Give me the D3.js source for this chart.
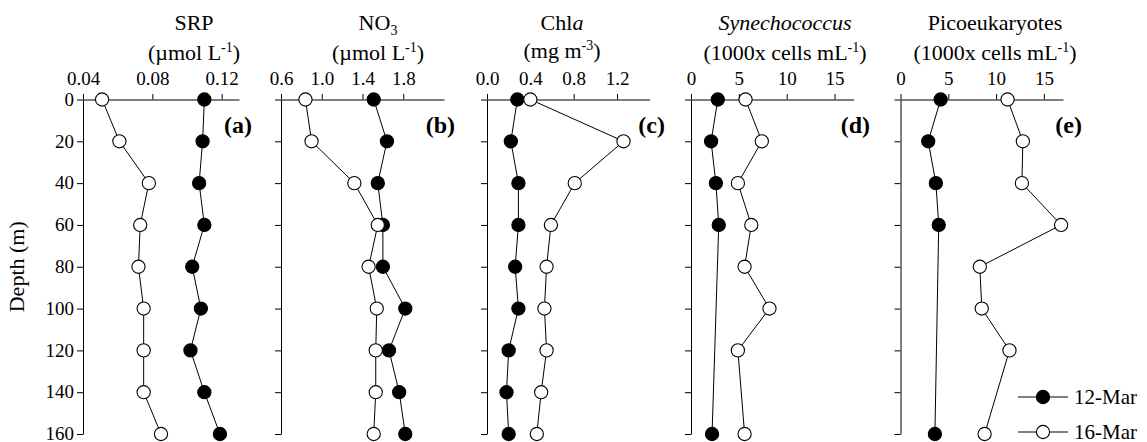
<!DOCTYPE html>
<html>
<head>
<meta charset="utf-8">
<script src="https://cdn.jsdelivr.net/npm/d3@7"></script>
<style>
  html, body { margin: 0; padding: 0; background: #fff; }
  svg { display: block; }
  svg text { font-family: "Liberation Serif", "DejaVu Serif", serif !important; }
</style>
</head>
<body>
<svg id="chart" width="1147" height="442" font-family="Liberation Serif"></svg>
<script>
// ---------------- DATA ----------------
const depths = [0, 20, 40, 60, 80, 100, 120, 140, 160];
const depthTicks = [0, 20, 40, 60, 80, 100, 120, 140, 160];
const seriesNames = ["12-Mar", "16-Mar"];

const srp12 = [0.110, 0.109, 0.107, 0.110, 0.103, 0.108, 0.102, 0.110, 0.119];
const srp16 = [0.051, 0.061, 0.078, 0.073, 0.072, 0.075, 0.075, 0.075, 0.085];

const no3_12 = [1.51, 1.64, 1.55, 1.60, 1.60, 1.82, 1.66, 1.76, 1.82];
const no3_16 = [0.84, 0.90, 1.32, 1.55, 1.46, 1.54, 1.53, 1.53, 1.51];

const chl12 = [0.28, 0.22, 0.29, 0.29, 0.26, 0.29, 0.20, 0.18, 0.20];
const chl16 = [0.40, 1.26, 0.81, 0.59, 0.55, 0.53, 0.55, 0.50, 0.46];

const syn12 = [2.8, 2.1, 2.6, 2.9, null, null, null, null, 2.2];
const syn16 = [5.7, 7.4, 4.9, 6.3, 5.6, 8.2, 4.9, null, 5.6];

const pico12 = [4.2, 2.9, 3.7, 4.0, null, null, null, null, 3.6];
const pico16 = [11.2, 12.8, 12.7, 16.8, 8.3, 8.5, 11.4, null, 8.8];

const srpTicks = [0.04, 0.08, 0.12];
const no3Ticks = [0.6, 1.0, 1.4, 1.8];
const chlTicks = [0.0, 0.4, 0.8, 1.2];
const cellTicks = [0, 5, 10, 15];

const panelLetters = ["(a)", "(b)", "(c)", "(d)", "(e)"];

// ---------------- LAYOUT ----------------
const FONT = "Liberation Serif";
const panels = [
  { s12: srp12, s16: srp16, domain: [0.04, 0.13], range: [83, 239], ticks: srpTicks, fmt: ".2f",
    titleX: 194, labelX: 252, title: "srp" },
  { s12: no3_12, s16: no3_16, domain: [0.6, 2.2], range: [281, 444], ticks: no3Ticks, fmt: ".1f",
    titleX: 378, labelX: 455, title: "no3" },
  { s12: chl12, s16: chl16, domain: [0, 1.5], range: [487, 649.5], ticks: chlTicks, fmt: ".1f",
    titleX: 562, labelX: 665, title: "chl" },
  { s12: syn12, s16: syn16, domain: [0, 17], range: [691, 853.7], ticks: cellTicks, fmt: "d",
    titleX: 785, labelX: 870, title: "syn" },
  { s12: pico12, s16: pico16, domain: [0, 17], range: [900.5, 1063], ticks: cellTicks, fmt: "d",
    titleX: 995, labelX: 1082, title: "pico" }
];

const svg = d3.select("#chart");
const y = d3.scaleLinear().domain([0, 160]).range([99.5, 434]);
const R = 6.6;
const TICK_FONT = 19;
const TITLE_FONT = 22;

function addTitle(g, p) {
  const t1 = g.append("text").attr("x", p.titleX).attr("y", 30).attr("text-anchor", "middle")
    .attr("font-family", FONT).attr("font-size", TITLE_FONT).attr("fill", "#000");
  const t2 = g.append("text").attr("x", p.titleX).attr("y", 60).attr("text-anchor", "middle")
    .attr("font-family", FONT).attr("font-size", TITLE_FONT).attr("fill", "#000");
  const sup = (t, pre, s, post) => {
    t.append("tspan").text(pre);
    t.append("tspan").attr("font-size", 14).attr("dy", -8).text(s);
    t.append("tspan").attr("dy", 8).text(post);
  };
  if (p.title === "srp") {
    t1.text("SRP");
    sup(t2, "(\u00b5mol L", "-1", ")");
  } else if (p.title === "no3") {
    t1.append("tspan").text("NO");
    t1.append("tspan").attr("font-size", 14).attr("dy", 5).text("3");
    sup(t2, "(\u00b5mol L", "-1", ")");
  } else if (p.title === "chl") {
    t1.append("tspan").text("Chl");
    t1.append("tspan").attr("font-style", "italic").text("a");
    t2.attr("y", 58);
    sup(t2, "(mg m", "-3", ")");
  } else if (p.title === "syn") {
    t1.append("tspan").attr("font-style", "italic").text("Synechococcus");
    sup(t2, "(1000x cells mL", "-1", ")");
  } else {
    t1.text("Picoeukaryotes");
    sup(t2, "(1000x cells mL", "-1", ")");
  }
}

panels.forEach((p, i) => {
  const g = svg.append("g");
  const x = d3.scaleLinear().domain(p.domain).range(p.range);

  // top x axis
  const xAxis = d3.axisTop(x).tickValues(p.ticks).tickFormat(d3.format(p.fmt))
    .tickSize(5.5).tickSizeOuter(0).tickPadding(9);
  const gx = g.append("g").attr("transform", `translate(0,${y(0)})`).call(xAxis)
    .attr("font-family", FONT);
  gx.selectAll("text").attr("font-size", TICK_FONT).attr("font-family", FONT).attr("fill", "#000");
  gx.selectAll("line, path").attr("stroke", "#000").attr("stroke-width", 1);

  // left y axis
  const yAxis = d3.axisLeft(y).tickValues(depthTicks).tickSize(6).tickSizeOuter(0).tickPadding(3)
    .tickFormat(i === 0 ? d3.format("d") : () => "");
  const gy = g.append("g").attr("transform", `translate(${p.range[0]},0)`).call(yAxis)
    .attr("font-family", FONT);
  gy.selectAll("text").attr("font-size", TICK_FONT).attr("font-family", FONT).attr("fill", "#000")
    .attr("dy", "0.3em");
  gy.selectAll("line, path").attr("stroke", "#000").attr("stroke-width", 1);

  addTitle(g, p);

  // panel letter
  g.append("text").attr("x", p.labelX).attr("y", 133).attr("text-anchor", "end")
    .attr("font-family", FONT).attr("font-size", 24).attr("font-weight", "bold")
    .attr("fill", "#000").text(panelLetters[i]);

  const line = d3.line().x(d => x(d.v)).y(d => y(d.d));
  [[p.s12, "#000"], [p.s16, "#fff"]].forEach(([vals, fill]) => {
    const pts = depths.map((d, k) => ({ d, v: vals[k] })).filter(o => o.v !== null);
    g.append("path").datum(pts).attr("d", line).attr("fill", "none")
      .attr("stroke", "#000").attr("stroke-width", 1);
    g.selectAll(null).data(pts).enter().append("circle")
      .attr("cx", d => x(d.v)).attr("cy", d => y(d.d)).attr("r", R)
      .attr("fill", fill).attr("stroke", "#000").attr("stroke-width", 1.1);
  });
});

// y axis title
svg.append("text").attr("transform", `translate(24,${(y(0) + y(160)) / 2}) rotate(-90)`)
  .attr("text-anchor", "middle").attr("font-family", FONT).attr("font-size", 22)
  .attr("fill", "#000").text("Depth (m)");

// legend
const legend = svg.append("g");
const legY = [397, 432];
seriesNames.forEach((name, k) => {
  const fill = k === 0 ? "#000" : "#fff";
  legend.append("line").attr("x1", 1018).attr("x2", 1068).attr("y1", legY[k]).attr("y2", legY[k])
    .attr("stroke", "#000").attr("stroke-width", 1.2);
  legend.append("circle").attr("cx", 1043).attr("cy", legY[k]).attr("r", R)
    .attr("fill", fill).attr("stroke", "#000").attr("stroke-width", 1.1);
  legend.append("text").attr("x", 1074).attr("y", legY[k]).attr("dy", "0.33em")
    .attr("font-family", FONT).attr("font-size", 21).attr("fill", "#000").text(name);
});
</script>
</body>
</html>
